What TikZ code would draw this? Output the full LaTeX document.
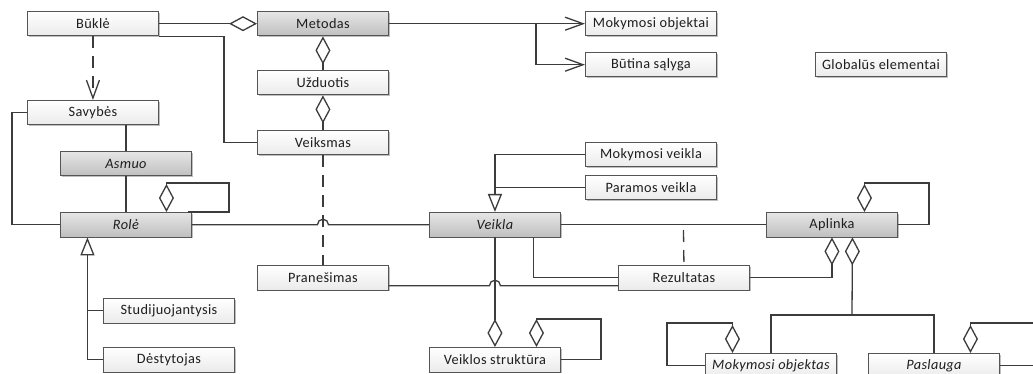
\documentclass[tikz,border=0pt]{standalone}
\usepackage{fontspec}
\setmainfont{Carlito}[LetterSpace=2.5]
\usetikzlibrary{arrows.meta,shadows,calc}
\definecolor{ln}{HTML}{3C3C3C}
\definecolor{bd}{HTML}{555555}
\definecolor{tx}{HTML}{1E1E1E}
\begin{document}
\begin{tikzpicture}[x=1pt,y=-1pt,
  box/.style={draw=bd, line width=0.9pt, minimum width=131pt, minimum height=24.5pt,
    anchor=north west, inner sep=0pt, font=\fontsize{14.3}{16}\selectfont, text=tx,
    top color=white, bottom color=gray!16,
    drop shadow={shadow xshift=1.5pt, shadow yshift=-1.5pt, opacity=0.25, fill=black}},
  gbox/.style={box, top color=gray!20, bottom color=gray!50},
  itbox/.style={font=\fontsize{14.3}{16}\selectfont\itshape},
  conn/.style={draw=ln, line width=1.3pt},
  dashline/.style={conn, dash pattern=on 12pt off 8pt},
  dS/.style={conn, {Diamond[length=28pt,width=15pt,fill=white]}-},
  dE/.style={conn, -{Diamond[length=28pt,width=15pt,fill=white]}},
  vE/.style={conn, -{Straight Barb[length=18pt,width=13pt]}},
  tE/.style={conn, -{Triangle[length=18pt,width=14pt,fill=white]}}
]
\useasboundingbox (0,0) rectangle (1033,374);
\clip (0,0) rectangle (1033,374);

% boxes
\node[box] (bukle) at (27,11) {Būklė};
\node[gbox] (metodas) at (257,11) {Metodas};
\node[box] (mokobj) at (585,11) {Mokymosi objektai};
\node[box] (butina) at (585,52) {Būtina sąlyga};
\node[box] (global) at (815,52) {Globalūs elementai};
\node[box] (uzduotis) at (257,70) {Užduotis};
\node[box] (savybes) at (27,100) {Savybės};
\node[box] (veiksmas) at (257,130) {Veiksmas};
\node[gbox,itbox] (asmuo) at (60,151) {Asmuo};
\node[box] (mokveikla) at (585,142) {Mokymosi veikla};
\node[box] (paramos) at (585,175) {Paramos veikla};
\node[gbox,itbox] (role) at (60,212) {Rolė};
\node[gbox,itbox] (veikla) at (429,212) {Veikla};
\node[gbox] (aplinka) at (766,212) {Aplinka};
\node[box] (pranesimas) at (257,265) {Pranešimas};
\node[box] (rezultatas) at (618,265) {Rezultatas};
\node[box] (studij) at (103,298) {Studijuojantysis};
\node[box] (destyt) at (103,347) {Dėstytojas};
\node[box] (vstrukt) at (429,347) {Veiklos struktūra};
\node[box,itbox] (mokobjektas) at (705,353) {Mokymosi objektas};
\node[box,itbox] (paslauga) at (868,353) {Paslauga};

% Metodas connections
\draw[dS] (metodas.west) -- (bukle.east);
\draw[conn] (bukle.south east) -- ++(65,0) |- (veiksmas.west);
\draw[dS] (metodas.south) -- (uzduotis.north);
\draw[dS] (uzduotis.south) -- (veiksmas.north);
\draw[vE] (metodas.east) -- (mokobj.west);
\coordinate (mbr) at (536,23.25);
\draw[vE] (mbr) |- (butina.west);

% Bukle -> Savybes
\draw[dashline, -{Straight Barb[length=18pt,width=13pt]}] (bukle.south) -- (savybes.north);

% Savybes / Asmuo / Role
\draw[conn] (asmuo.north |- savybes.south) -- (asmuo.north);
\draw[conn] (asmuo.south) -- (role.north);
\draw[conn] (savybes.west) -- ++(-15,0) |- (role.west);
\coordinate (rl) at (229,183);
\draw[dS] ($(role.north)+(40.5,0)$) |- (rl) |- ($(role.north east)+(-4,0)$);

% Role -- Veikla with jump
\draw[conn] (role.east) -- ($(veiksmas.south |- role.east)+(-5.5,0)$)
  arc[start angle=180,end angle=0,radius=5.5pt] -- (veikla.west);
\draw[dashline] (veiksmas.south) -- (pranesimas.north);

% Generalisations of Role
\coordinate (rg) at ($(role.south)+(-38.5,0)$);
\draw[tE] (studij.west) -| (rg);
\draw[conn] (destyt.west) -| ($(rg)+(0,40)$);

% Veikla
\draw[tE] (mokveikla.west) -| (veikla.north);
\draw[conn] (paramos.west) -- (paramos.west -| veikla.north);
\draw[conn] (veikla.east) -- (aplinka.west);
\coordinate (ac) at (683.5,230);
\draw[dashline] (ac) -- (rezultatas.north);
\draw[conn] ($(veikla.south)+(38.5,0)$) |- (rezultatas.west);
\draw[dE] (veikla.south) -- (vstrukt.north);
\draw[conn] ($(pranesimas.east)+(0,8)$) -- ($(veikla.south |- pranesimas.east)+(-5.5,8)$)
  arc[start angle=180,end angle=0,radius=5.5pt] -- ($(rezultatas.west)+(0,8)$);
\coordinate (vl) at (601,319);
\draw[dS] ($(vstrukt.north)+(41.5,0)$) |- (vl) |- (vstrukt.east);

% Aplinka
\coordinate (al) at (929,183);
\draw[dS] ($(aplinka.north)+(32.5,0)$) |- (al) |- (aplinka.east);
\draw[dE] (rezultatas.east) -| (aplinka.south);
\coordinate (aj) at (852,315);
\draw[dE] (aj) -- ($(aplinka.south)+(20.5,0)$);
\draw[conn] (mokobjektas.north) |- (aj) -| (paslauga.north);
\coordinate (ml) at (667,323);
\draw[dS] ($(mokobjektas.north)+(-38.5,0)$) |- (ml) |- (mokobjektas.west);
\coordinate (pl) at (1060,323);
\draw[dS] ($(paslauga.north)+(36.5,0)$) |- (pl) |- (paslauga.east);
\end{tikzpicture}
\end{document}
